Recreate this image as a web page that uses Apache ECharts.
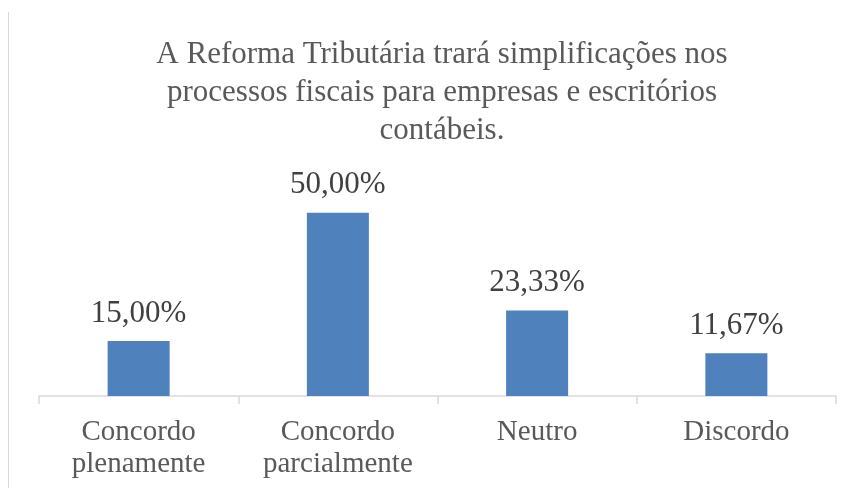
<!DOCTYPE html>
<html><head><meta charset="utf-8">
<script src="https://cdn.jsdelivr.net/npm/echarts@6/dist/echarts.min.js"></script>
<style>html,body{margin:0;padding:0;background:#fff}#c{width:853px;height:488px}</style>
</head><body><div id="c"></div>
<script>
const categories = ["Concordo\nplenamente", "Concordo\nparcialmente", "Neutro", "Discordo"];
const values = [15.00, 50.00, 23.33, 11.67];
const titleText = "A Reforma Tributária trará simplificações nos\nprocessos fiscais para empresas e escritórios\ncontábeis.";

const chart = echarts.init(document.getElementById('c'));
const font = '"Liberation Serif", "Times New Roman", serif';
chart.setOption({
  animation: false,
  backgroundColor: '#fff',
  title: {
    text: titleText, left: 437, textAlign: 'center', top: 31,
    textStyle: {fontFamily: font, fontSize: 31, fontWeight: 'normal', color: '#595959', lineHeight: 38}
  },
  grid: {left: 39, right: 17, top: 176, bottom: 92},
  xAxis: {
    type: 'category', data: categories,
    axisLine: {lineStyle: {color: '#d9d9d9', width: 1.5}},
    axisTick: {show: true, length: 8, lineStyle: {color: '#d9d9d9', width: 1.5}},
    axisLabel: {fontFamily: font, fontSize: 29, color: '#595959', lineHeight: 32, margin: 20, interval: 0}
  },
  yAxis: {type: 'value', min: 0, max: 60, show: false, splitLine: {show: false}},
  series: [{
    type: 'bar', data: values, barWidth: 62,
    itemStyle: {color: '#4f81bd'},
    label: {show: true, position: 'top', distance: 12, fontFamily: font, fontSize: 31, color: '#404040',
      formatter: p => p.value.toFixed(2).replace('.', ',') + '%'}
  }],
  graphic: [{type: 'line', shape: {x1: 8.5, y1: 12, x2: 8.5, y2: 488}, style: {stroke: '#d9d9d9', lineWidth: 1}}]
});
</script></body></html>
